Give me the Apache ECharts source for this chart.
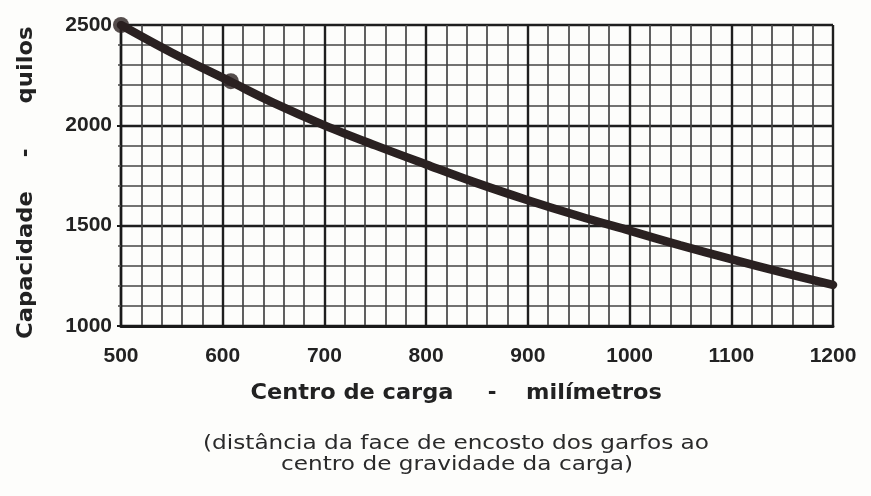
<!DOCTYPE html>
<html lang="pt">
  <head>
    <meta charset="UTF-8">
    <title>Capacidade x Centro de carga</title>
    <style>
      html, body { margin: 0; padding: 0; background: #fdfdfb; }
      .chart { width: 871px; height: 496px; }
    </style>
  </head>
  <body>
    <div id="chart" class="chart"></div>
    <script src="https://cdn.jsdelivr.net/npm/echarts@6/dist/echarts.min.js"></script>
    <script type="text/javascript">
      // curva (mm -> kg)
      var centroCarga = [500, 550, 608, 650, 700, 750, 800, 850, 900, 950, 1000, 1050, 1100, 1150, 1200];
      var capacidade = [2500, 2362, 2217, 2112, 2000, 1900, 1805, 1712, 1627, 1548, 1475, 1402, 1333, 1267, 1205];
      // os dois pontos marcados
      var pontosX = [500, 608];
      var pontosY = [2500, 2220];

      var xTicks = [500, 600, 700, 800, 900, 1000, 1100, 1200];
      var yTicks = [1000, 1500, 2000, 2500];

      var tituloX = ['Centro de carga', '-', 'milímetros'];
      var tituloY = ['Capacidade', '-', 'quilos'];
      var notaX = ['(distância da face de encosto dos garfos ao', 'centro de gravidade da carga)'];

      var myChart = echarts.init(document.getElementById('chart'));

      var corTexto = '#222';
      var bold = 'DejaVu Sans';

      var option = {
        backgroundColor: '#fdfdfb',
        animation: false,
        grid: {
          left: 121,
          right: 38,
          top: 25,
          bottom: 170
        },
        xAxis: {
          type: 'value',
          min: xTicks[0],
          max: xTicks[xTicks.length - 1],
          interval: 100,
          axisLine: { show: true, lineStyle: { color: '#1a1a1a', width: 3 } },
          axisTick: { show: false },
          axisLabel: {
            color: corTexto,
            fontFamily: 'Liberation Sans',
            fontWeight: 'bold',
            fontSize: 21,
            margin: 20,
            formatter: function (v) { return String(v); }
          },
          splitLine: { show: true, lineStyle: { color: '#1e1e1e', width: 2.4 } },
          minorTick: { show: false, splitNumber: 5 },
          minorSplitLine: { show: true, lineStyle: { color: '#444', width: 1.7 } }
        },
        yAxis: {
          type: 'value',
          min: yTicks[0],
          max: yTicks[yTicks.length - 1],
          interval: 500,
          axisLine: { show: true, lineStyle: { color: '#1a1a1a', width: 2.4 } },
          axisTick: { show: true, length: 4, lineStyle: { color: '#1a1a1a', width: 2 } },
          axisLabel: {
            color: corTexto,
            fontFamily: 'Liberation Sans',
            fontWeight: 'bold',
            fontSize: 21,
            margin: 9,
            formatter: function (v) { return String(v); }
          },
          splitLine: { show: true, lineStyle: { color: '#1e1e1e', width: 2.4 } },
          minorTick: { show: true, splitNumber: 5, length: 3, lineStyle: { color: '#444', width: 1.5 } },
          minorSplitLine: { show: true, lineStyle: { color: '#444', width: 1.7 } }
        },
        series: [
          {
            name: 'Capacidade',
            type: 'line',
            smooth: 0.35,
            showSymbol: false,
            symbol: 'none',
            lineStyle: { color: '#2a2121', width: 8.5, cap: 'round' },
            data: centroCarga.map(function (x, i) { return [x, capacidade[i]]; }),
            z: 5
          },
          {
            name: 'pontos',
            type: 'scatter',
            symbolSize: 16,
            itemStyle: { color: '#2a2121' },
            data: pontosX.map(function (x, i) { return [x, pontosY[i]]; }),
            z: 6
          }
        ],
        graphic: [
          // título eixo x
          { type: 'text', x: 352, y: 394, scaleX: 1.07,
            style: { text: tituloX[0], x: 0, y: 0, align: 'center', verticalAlign: 'middle',
                     font: 'bold 21px "' + bold + '"', fill: corTexto } },
          { type: 'text', x: 492, y: 394,
            style: { text: tituloX[1], x: 0, y: 0, align: 'center', verticalAlign: 'middle',
                     font: 'bold 21px "' + bold + '"', fill: corTexto } },
          { type: 'text', x: 594, y: 394, scaleX: 1.07,
            style: { text: tituloX[2], x: 0, y: 0, align: 'center', verticalAlign: 'middle',
                     font: 'bold 21px "' + bold + '"', fill: corTexto } },
          // título eixo y (rodado)
          { type: 'text', x: 27, y: 265, rotation: Math.PI / 2, scaleX: 1.08,
            style: { text: tituloY[0], x: 0, y: 0, align: 'center', verticalAlign: 'middle',
                     font: 'bold 21px "' + bold + '"', fill: corTexto } },
          { type: 'text', x: 27, y: 153, rotation: Math.PI / 2,
            style: { text: tituloY[1], x: 0, y: 0, align: 'center', verticalAlign: 'middle',
                     font: 'bold 21px "' + bold + '"', fill: corTexto } },
          { type: 'text', x: 27, y: 65, rotation: Math.PI / 2, scaleX: 1.08,
            style: { text: tituloY[2], x: 0, y: 0, align: 'center', verticalAlign: 'middle',
                     font: 'bold 21px "' + bold + '"', fill: corTexto } },
          // nota
          { type: 'text', x: 456, y: 444, scaleX: 1.22,
            style: { text: notaX[0], x: 0, y: 0, align: 'center', verticalAlign: 'middle',
                     font: '19px "DejaVu Sans"', fill: '#2a2a2a' } },
          { type: 'text', x: 457, y: 465, scaleX: 1.22,
            style: { text: notaX[1], x: 0, y: 0, align: 'center', verticalAlign: 'middle',
                     font: '19px "DejaVu Sans"', fill: '#2a2a2a' } }
        ]
      };

      myChart.setOption(option);
    </script>
  </body>
</html>
